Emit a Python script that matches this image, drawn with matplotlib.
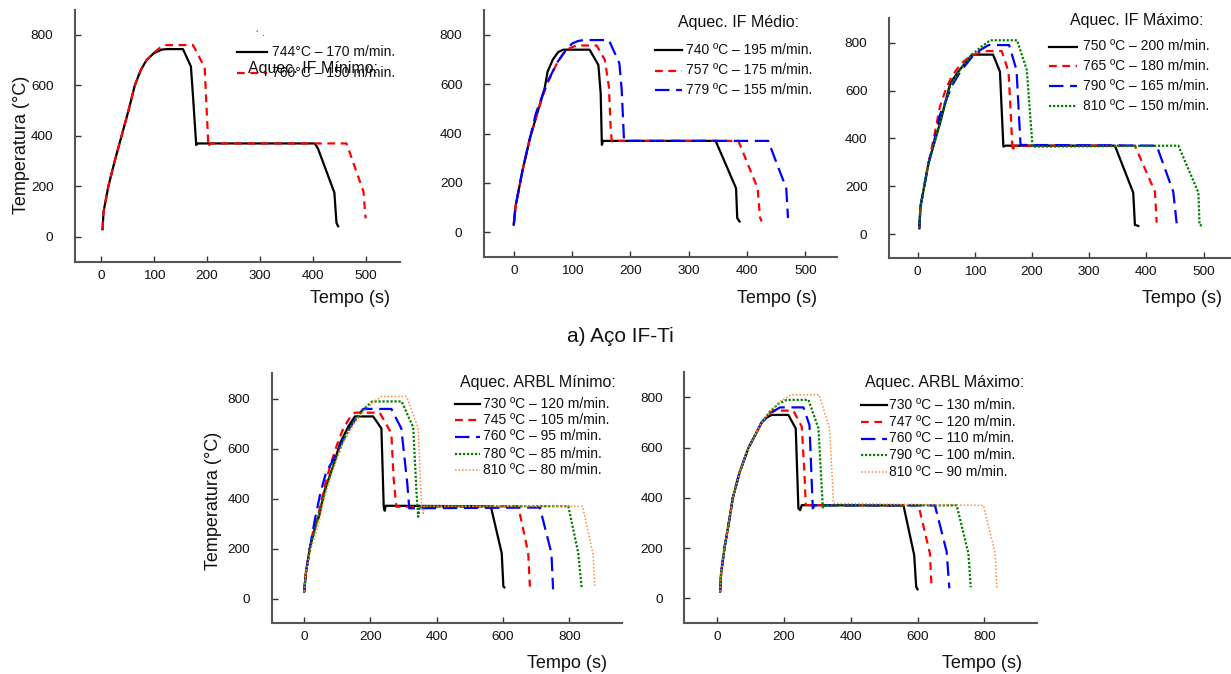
import matplotlib
matplotlib.use("Agg")
import matplotlib.pyplot as plt
from matplotlib.lines import Line2D

plt.rcParams['font.family'] = ['Liberation Sans', 'DejaVu Sans']

W, H = 1231, 674

# ---------------- DATA ----------------
# Panel 1: Aquec. IF Minimo
ifmin_744_t = [3, 5, 14, 26, 39, 52, 64, 75, 86, 100, 115, 125, 155, 170, 174, 180, 183, 404, 410, 441, 445, 448]
ifmin_744_T = [30, 100, 200, 300, 400, 500, 600, 660, 700, 728, 742, 744, 744, 675, 555, 364, 370, 370, 350, 175, 55, 42]
ifmin_760_t = [3, 5, 14, 26, 39, 52, 64, 75, 86, 100, 112, 120, 174, 190, 196, 203, 206, 464, 496, 500]
ifmin_760_T = [30, 100, 200, 300, 400, 500, 600, 660, 700, 730, 750, 760, 760, 695, 670, 357, 370, 370, 179, 73]

# Panel 2: Aquec. IF Medio
ifmed_740_t = [0, 3, 15, 27, 40, 53, 58, 67, 76, 85, 97, 130, 145, 149, 151, 153, 346, 381, 383, 387]
ifmed_740_T = [30, 104, 250, 374, 480, 584, 651, 700, 730, 740, 740, 740, 678, 563, 354, 370, 370, 178, 57, 43]
ifmed_757_t = [0, 3, 15, 27, 40, 55, 65, 75, 85, 95, 107, 142, 156, 163, 166, 168, 171, 385, 418, 422, 425]
ifmed_757_T = [30, 104, 250, 374, 480, 590, 640, 690, 725, 745, 757, 757, 699, 591, 429, 368, 370, 370, 178, 60, 43]
ifmed_779_t = [0, 3, 15, 27, 38, 50, 60, 75, 90, 100, 110, 119, 163, 181, 185, 189, 436, 467, 470]
ifmed_779_T = [30, 104, 250, 374, 482, 560, 620, 690, 740, 765, 775, 779, 779, 685, 577, 370, 370, 178, 57]

# Panel 3: Aquec. IF Maximo
ifmax_750_t = [3, 5, 19, 39, 57, 71, 85, 95, 132, 144, 150, 154, 345, 377, 380, 386]
ifmax_750_T = [25, 115, 296, 463, 630, 679, 720, 750, 750, 679, 366, 370, 370, 174, 39, 35]
ifmax_765_t = [3, 5, 19, 30, 39, 50, 60, 75, 90, 105, 121, 147, 159, 163, 166, 169, 380, 415, 418]
ifmax_765_T = [25, 115, 296, 420, 533, 610, 660, 710, 740, 755, 765, 765, 679, 500, 345, 370, 370, 178, 49]
ifmax_790_t = [3, 5, 19, 30, 39, 50, 60, 75, 95, 110, 124, 160, 173, 180, 418, 447, 453]
ifmax_790_T = [25, 115, 296, 400, 498, 560, 620, 680, 740, 770, 790, 790, 685, 373, 370, 178, 46]
ifmax_810_t = [3, 5, 19, 39, 57, 75, 95, 110, 127, 174, 191, 201, 456, 491, 493, 499]
ifmax_810_T = [25, 115, 296, 463, 620, 690, 750, 780, 810, 810, 685, 366, 370, 174, 39, 35]

# Panel 4: Aquec. ARBL Minimo
arblmin_730_t = [0, 5, 17, 37, 45, 62, 87, 108, 133, 153, 208, 233, 240, 243, 246, 563, 596, 601, 604]
arblmin_730_T = [28, 101, 201, 308, 330, 435, 529, 622, 689, 730, 730, 682, 368, 352, 372, 370, 182, 48, 45]
arblmin_745_t = [0, 5, 17, 30, 45, 60, 80, 100, 118, 140, 153, 228, 263, 270, 278, 646, 676, 681]
arblmin_745_T = [28, 101, 201, 290, 350, 440, 540, 620, 682, 730, 745, 745, 662, 480, 368, 370, 182, 48]
arblmin_760_t = [0, 5, 17, 32, 50, 67, 82, 100, 130, 160, 178, 263, 293, 311, 317, 711, 746, 751]
arblmin_760_T = [28, 101, 201, 315, 430, 509, 542, 590, 670, 730, 760, 760, 682, 462, 362, 365, 182, 37]
arblmin_780_t = [0, 5, 17, 37, 60, 90, 120, 150, 180, 205, 294, 329, 339, 344, 349, 797, 827, 837]
arblmin_780_T = [28, 101, 201, 300, 420, 540, 640, 710, 760, 790, 790, 686, 422, 328, 370, 370, 182, 45]
arblmin_810_t = [0, 5, 20, 40, 60, 90, 120, 150, 180, 210, 233, 309, 344, 354, 359, 362, 840, 872, 877]
arblmin_810_T = [28, 101, 200, 280, 400, 530, 630, 700, 750, 790, 810, 810, 682, 368, 342, 370, 370, 175, 45]

# Panel 5: Aquec. ARBL Maximo
arblmax_730_t = [10, 13, 23, 36, 48, 68, 95, 115, 134, 150, 164, 214, 236, 244, 249, 254, 558, 590, 596, 600]
arblmax_730_T = [27, 100, 200, 300, 400, 500, 600, 650, 700, 720, 730, 730, 676, 358, 351, 371, 370, 172, 46, 36]
arblmax_747_t = [10, 13, 23, 36, 48, 68, 95, 115, 134, 150, 169, 229, 254, 262, 266, 603, 637, 642]
arblmax_747_T = [27, 100, 200, 300, 400, 500, 600, 650, 700, 725, 747, 747, 683, 500, 371, 370, 179, 40]
arblmax_760_t = [10, 13, 23, 36, 48, 68, 95, 115, 134, 155, 170, 189, 259, 277, 287, 292, 652, 687, 695]
arblmax_760_T = [27, 100, 200, 300, 400, 500, 600, 650, 700, 730, 745, 760, 760, 690, 358, 370, 370, 186, 40]
arblmax_790_t = [10, 13, 23, 36, 48, 68, 95, 115, 134, 160, 185, 209, 274, 304, 317, 321, 717, 752, 759]
arblmax_790_T = [27, 100, 200, 300, 400, 500, 600, 650, 700, 745, 775, 790, 790, 676, 358, 370, 370, 179, 44]
arblmax_810_t = [10, 13, 23, 36, 48, 68, 95, 115, 134, 160, 190, 224, 306, 337, 349, 797, 832, 837]
arblmax_810_T = [27, 100, 200, 300, 400, 500, 600, 650, 700, 745, 785, 810, 810, 676, 378, 370, 179, 40]

labels_ifmin = ["744°C – 170 m/min.", "760°C – 150 m/min."]
labels_ifmed = ["740 ºC – 195 m/min.", "757 ºC – 175 m/min.", "779 ºC – 155 m/min."]
labels_ifmax = ["750 ºC – 200 m/min.", "765 ºC – 180 m/min.", "790 ºC – 165 m/min.", "810 ºC – 150 m/min."]
labels_arblmin = ["730 ºC – 120 m/min.", "745 ºC – 105 m/min.", "760 ºC – 95 m/min.",
                  "780 ºC – 85 m/min.", "810 ºC – 80 m/min."]
labels_arblmax = ["730 ºC – 130 m/min.", "747 ºC – 120 m/min.", "760 ºC – 110 m/min.",
                  "790 ºC – 100 m/min.", "810 ºC – 90 m/min."]

# ---------------- STYLES ----------------
ST = [
    dict(color='black', lw=1.6, linestyle='-'),
    dict(color='#ff0000', lw=1.6, linestyle=(0, (3.5, 2.5))),
    dict(color='#0000ff', lw=1.6, linestyle=(0, (6.5, 3))),
    dict(color='#008000', lw=1.6, linestyle=(0, (1, 0.8))),
    dict(color='#ff8a3a', lw=1.1, linestyle=(0, (1, 1.3))),
]

fig = plt.figure(figsize=(W / 100, H / 100), dpi=100)


def px_axes(l, r, t, b):
    return fig.add_axes([l / W, 1 - b / H, (r - l) / W, (b - t) / H])


def style_axes(ax, xlim, ylim, xticks):
    ax.set_xlim(*xlim)
    ax.set_ylim(*ylim)
    ax.set_xticks(xticks)
    ax.set_yticks([0, 200, 400, 600, 800])
    for s in ['top', 'right']:
        ax.spines[s].set_visible(False)
    for s in ['left', 'bottom']:
        ax.spines[s].set_color('#555555')
        ax.spines[s].set_linewidth(1.5)
    ax.tick_params(axis='both', direction='in', length=4, width=1, color='#333333',
                   labelsize=9.7, labelcolor='#111111')
    ax.tick_params(axis='y', pad=15.5)
    ax.tick_params(axis='x', pad=5.5)
    ax.patch.set_alpha(0)


def fx(x):
    return x / W


def fy(y):
    return 1 - y / H


def legend(title, tx, ty, hx0, hx1, lx, rows, labels, title_fs=11.5, fs=10):
    if title:
        fig.text(fx(tx), fy(ty), title, ha='center', va='center', fontsize=title_fs, color='#111111')
    for i, (y, lab) in enumerate(zip(rows, labels)):
        st = ST[i]
        fig.add_artist(Line2D([fx(hx0), fx(hx1)], [fy(y), fy(y)], transform=fig.transFigure,
                              color=st['color'], lw=st['lw'], linestyle=st['linestyle']))
        fig.text(fx(lx), fy(y), lab, ha='left', va='center', fontsize=fs, color='#111111')


# Panel 1
ax1 = px_axes(75, 400, 10, 262)
style_axes(ax1, (-49, 565), (-100, 899), [0, 100, 200, 300, 400, 500])
ax1.plot(ifmin_744_t, ifmin_744_T, **ST[0])
ax1.plot(ifmin_760_t, ifmin_760_T, **ST[1])
legend(None, 0, 0, 237, 267, 272, [52, 73], labels_ifmin, fs=10)
fig.text(fx(313), fy(68), "Aquec. IF Mínimo:", ha='center', va='center', fontsize=11.5, color='#111111')
fig.text(fx(261), fy(36), "´ ·", ha='center', va='center', fontsize=7, color='#111111')

# Panel 2
ax2 = px_axes(484, 837, 10, 257)
style_axes(ax2, (-51, 554), (-101, 901), [0, 100, 200, 300, 400, 500])
for i, (t, T) in enumerate([(ifmed_740_t, ifmed_740_T), (ifmed_757_t, ifmed_757_T), (ifmed_779_t, ifmed_779_T)]):
    ax2.plot(t, T, **ST[i])
legend("Aquec. IF Médio:", 739, 23, 655, 682, 686, [50, 70.5, 90], labels_ifmed)

# Panel 3
ax3 = px_axes(889, 1231, 18, 258)
style_axes(ax3, (-50, 548), (-99, 903), [0, 100, 200, 300, 400, 500])
for i, (t, T) in enumerate([(ifmax_750_t, ifmax_750_T), (ifmax_765_t, ifmax_765_T),
                            (ifmax_790_t, ifmax_790_T), (ifmax_810_t, ifmax_810_T)]):
    ax3.plot(t, T, **ST[i])
legend("Aquec. IF Máximo:", 1137, 20, 1049, 1077, 1083, [46.5, 65.5, 86, 106], labels_ifmax)

# Panel 4
ax4 = px_axes(271.7, 621.7, 373, 623.3)
style_axes(ax4, (-98, 958), (-99, 904), [0, 200, 400, 600, 800])
for i, (t, T) in enumerate([(arblmin_730_t, arblmin_730_T), (arblmin_745_t, arblmin_745_T),
                            (arblmin_760_t, arblmin_760_T), (arblmin_780_t, arblmin_780_T),
                            (arblmin_810_t, arblmin_810_T)]):
    ax4.plot(t, T, **ST[i])
legend("Aquec. ARBL Mínimo:", 538, 382, 455, 480, 483, [403.5, 420, 436.5, 453.5, 470], labels_arblmin)

# Panel 5
ax5 = px_axes(684.3, 1037, 371.7, 623)
style_axes(ax5, (-97, 957), (-98, 902), [0, 200, 400, 600, 800])
for i, (t, T) in enumerate([(arblmax_730_t, arblmax_730_T), (arblmax_747_t, arblmax_747_T),
                            (arblmax_760_t, arblmax_760_T), (arblmax_790_t, arblmax_790_T),
                            (arblmax_810_t, arblmax_810_T)]):
    ax5.plot(t, T, **ST[i])
legend("Aquec. ARBL Máximo:", 945, 383, 861, 887, 889, [405, 421.5, 438.5, 455, 472], labels_arblmax)

# Axis labels
fig.text(fx(22), fy(145), "Temperatura (°C)", rotation=90, ha='center', va='center', fontsize=13, color='#111111')
fig.text(fx(213), fy(501), "Temperatura (°C)", rotation=90, ha='center', va='center', fontsize=13, color='#111111')
for xr, yc in [(390, 298), (817, 298), (1222, 298), (607, 664), (1022, 664)]:
    fig.text(fx(xr), fy(yc), "Tempo (s)", ha='right', va='center', fontsize=13, color='#111111')

fig.text(fx(567), fy(336), "a) Aço IF-Ti", ha='left', va='center', fontsize=15, color='#111111')

fig.savefig("out.png", dpi=100)
